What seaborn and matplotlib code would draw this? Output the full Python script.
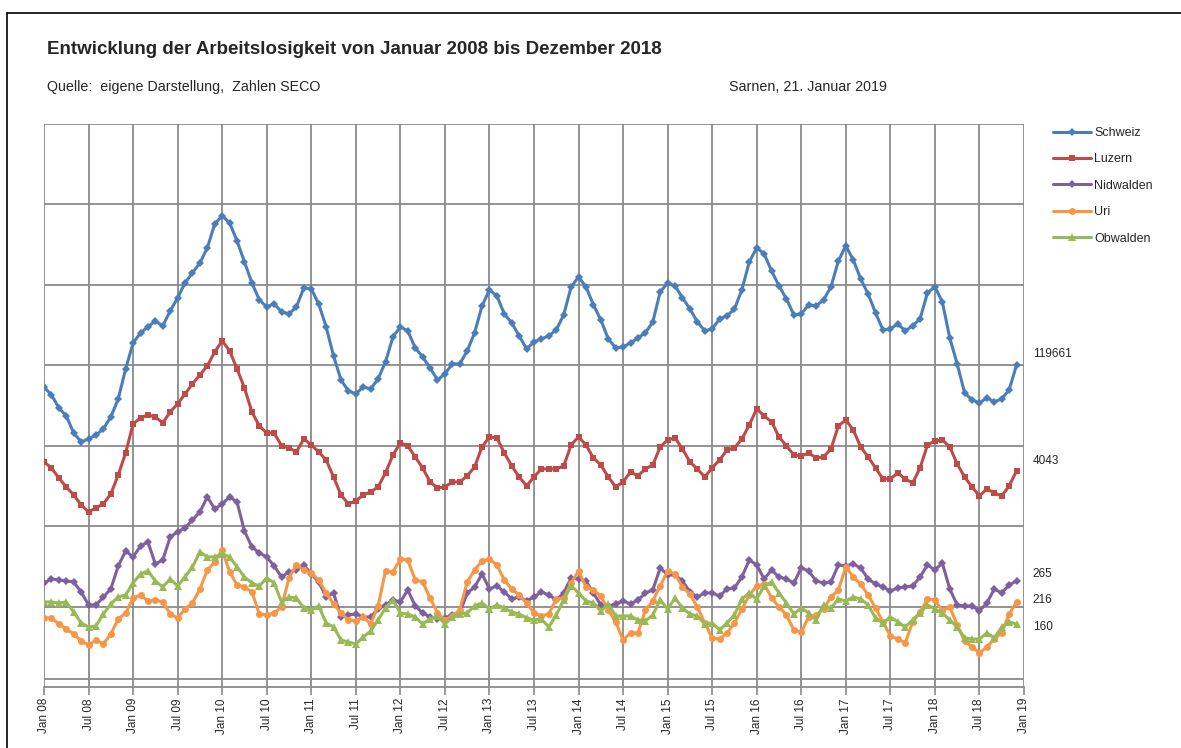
import numpy as np
import pandas as pd
import matplotlib
matplotlib.use("Agg")
import matplotlib.pyplot as plt
from matplotlib.lines import Line2D
import seaborn as sns

# Monthly values Jan 2008 .. Dec 2018 (relative chart units, no y labels)
schweiz = [300,292,279,271,254,245,248,252,258,270,288,318,
           344,354,360,366,361,376,389,404,414,424,439,463,
           471,464,446,425,404,387,380,383,375,373,380,399,
           398,383,360,331,307,296,293,300,298,308,325,350,
           360,356,339,330,319,307,313,323,323,336,354,381,
           397,391,373,364,351,338,345,348,351,357,372,400,
           410,400,382,367,348,339,340,344,349,354,365,395,
           404,401,389,378,365,356,358,368,371,378,397,425,
           439,433,416,401,388,372,373,382,381,387,400,426,
           441,427,408,393,374,357,358,363,356,361,368,394,
           400,385,349,323,294,287,284,289,285,288,297,322]
luzern = [225,219,209,200,192,182,175,179,183,193,212,234,
          263,269,272,270,264,275,283,293,303,312,321,335,
          346,336,318,299,275,261,254,254,241,239,235,248,
          242,235,227,210,192,183,186,192,195,200,214,232,
          244,241,230,219,205,199,200,205,205,211,220,240,
          250,249,234,221,210,201,210,218,218,218,221,242,
          250,242,229,222,210,200,205,215,211,218,222,240,
          247,249,238,225,218,210,219,227,237,239,248,262,
          278,271,265,250,241,232,231,234,229,230,238,261,
          267,257,240,230,219,208,208,214,208,204,219,242,
          246,247,240,223,210,200,191,198,194,191,201,216]
nidwalden = [104,108,107,106,105,95,82,82,90,98,121,136,
             130,141,145,123,127,150,155,159,167,175,190,178,
             183,190,185,156,140,134,130,121,110,115,117,122,
             113,105,90,94,70,72,73,70,70,78,82,87,
             85,97,81,74,70,68,69,72,74,94,100,113,
             98,101,95,88,90,86,90,95,92,87,94,109,
             108,106,94,82,81,83,86,83,87,94,97,119,
             112,112,106,95,90,94,94,91,98,99,110,127,
             122,108,117,110,108,104,119,116,106,104,105,122,
             121,123,119,108,103,100,96,99,100,101,110,122,
             117,124,98,82,81,81,76,84,98,94,102,106]
uri = [69,69,63,58,53,46,42,47,43,53,68,74,
       89,92,86,87,85,73,69,78,84,98,117,125,
       137,115,102,100,95,73,72,74,80,109,122,117,
       114,107,94,83,74,67,66,70,63,81,116,115,
       128,127,107,105,89,74,67,71,77,105,117,126,
       128,122,107,98,92,84,74,71,73,88,89,104,
       116,100,97,91,77,65,47,54,54,77,86,101,
       116,113,100,93,80,64,49,48,54,64,78,92,
       101,103,89,80,72,57,55,70,72,78,90,97,
       120,110,103,92,79,65,51,48,44,65,75,88,
       87,76,80,62,46,40,34,40,48,54,73,85]
obwalden = [85,85,84,85,75,64,60,61,73,83,90,92,
            104,113,116,106,100,108,101,110,120,135,130,130,
            133,130,120,110,104,101,109,104,85,90,89,79,
            77,81,64,60,47,45,43,50,56,67,79,87,
            74,73,70,63,68,71,63,70,73,74,81,84,
            78,82,79,75,73,69,67,68,60,72,87,101,
            94,86,84,76,83,71,71,71,67,66,72,87,
            78,89,79,73,71,63,64,57,64,72,88,94,
            88,101,105,94,84,73,79,74,67,82,79,88,
            86,90,88,82,69,64,70,65,60,67,74,82,
            78,74,67,60,49,48,48,54,49,60,65,63]

series_names = ["Schweiz", "Luzern", "Nidwalden", "Uri", "Obwalden"]
end_labels = ["119661", "4043", "265", "216", "160"]
years = list(range(8, 19))
tick_labels = []
for y in years:
    tick_labels += [f"Jan {y:02d}", f"Jul {y:02d}"]
tick_labels.append("Jan 19")

title = "Entwicklung der Arbeitslosigkeit von Januar 2008 bis Dezember 2018"
source = "Quelle:  eigene Darstellung,  Zahlen SECO"
place_date = "Sarnen, 21. Januar 2019"

sns.set_theme(style="white")
plt.rcParams['font.family'] = ['Liberation Sans', 'DejaVu Sans']

W, H = 1181, 748
fig = plt.figure(figsize=(W / 100, H / 100), dpi=100)
fig.patch.set_facecolor("white")

# chart-area border (left and top visible)
fig.add_artist(Line2D([7 / W, 7 / W], [0, 1 - 13 / H], color="black", lw=1.2))
fig.add_artist(Line2D([7 / W, 1], [1 - 13 / H, 1 - 13 / H], color="black", lw=1.2))

fig.text(47 / W, 1 - 50 / H, title, fontsize=13.5, fontweight="bold", va="center", ha="left")
fig.text(47 / W, 1 - 87 / H, source, fontsize=10.3, va="center", ha="left")
fig.text(729 / W, 1 - 87 / H, place_date, fontsize=10.3, va="center", ha="left")

ax = fig.add_axes([44 / W, 1 - 687 / H, (1024 - 44) / W, (687 - 124) / H])

months = np.arange(len(schweiz))
data = {"Schweiz": schweiz, "Luzern": luzern, "Nidwalden": nidwalden, "Uri": uri, "Obwalden": obwalden}
colors = {"Schweiz": "#4A7EBB", "Luzern": "#BE4B48", "Nidwalden": "#7D60A0", "Uri": "#F79646", "Obwalden": "#98B954"}
markers = {"Schweiz": "D", "Luzern": "s", "Nidwalden": "D", "Uri": "o", "Obwalden": "^"}
msizes = {"Schweiz": 3.6, "Luzern": 4.8, "Nidwalden": 3.6, "Uri": 5.0, "Obwalden": 5.2}

grid_c = "#8a8a8a"
step = 80.4
for k in range(1, 8):
    ax.axhline(k * step, color=grid_c, lw=1.3, zorder=1)
ax.axhline(8, color=grid_c, lw=1.3, zorder=1)
for xv in range(0, 133, 6):
    ax.axvline(xv, color=grid_c, lw=1.3, zorder=1)

for name in series_names:
    df = pd.DataFrame({"month": months, "value": data[name]})
    sns.lineplot(data=df, x="month", y="value", ax=ax, color=colors[name], lw=2.2,
                 marker=markers[name], markersize=msizes[name], markeredgewidth=0,
                 label=name, zorder=3)

ax.set_xlim(0, 132)
ax.set_ylim(0, 7 * step)
ax.set_xticks(range(0, 133, 6))
ax.set_xticklabels(tick_labels, rotation=90, fontsize=8.5)
ax.set_yticks([])
ax.set_xlabel("")
ax.set_ylabel("")
ax.tick_params(axis="x", length=6, width=1.2, color=grid_c, pad=2, direction="out")
ax.xaxis.set_ticks_position("bottom")
for s in ["left", "right", "top"]:
    ax.spines[s].set_visible(False)
ax.spines["bottom"].set_color(grid_c)
ax.spines["bottom"].set_linewidth(1.3)

offsets = {"Schweiz": 11, "Luzern": 10, "Nidwalden": 7, "Uri": 2, "Obwalden": -3}
for name, lab in zip(series_names, end_labels):
    ax.annotate(lab, xy=(131, data[name][-1]), xytext=(16, offsets[name]),
                textcoords="offset pixels", fontsize=8.5, va="center", ha="left",
                annotation_clip=False)

leg = ax.legend(loc="upper left", bbox_to_anchor=(1048 / W, 1 - 122 / H),
                bbox_transform=fig.transFigure, frameon=False, fontsize=9,
                handlelength=3.0, handletextpad=0.3, labelspacing=1.15, borderaxespad=0)

fig.savefig("out.png", dpi=100, facecolor="white")
